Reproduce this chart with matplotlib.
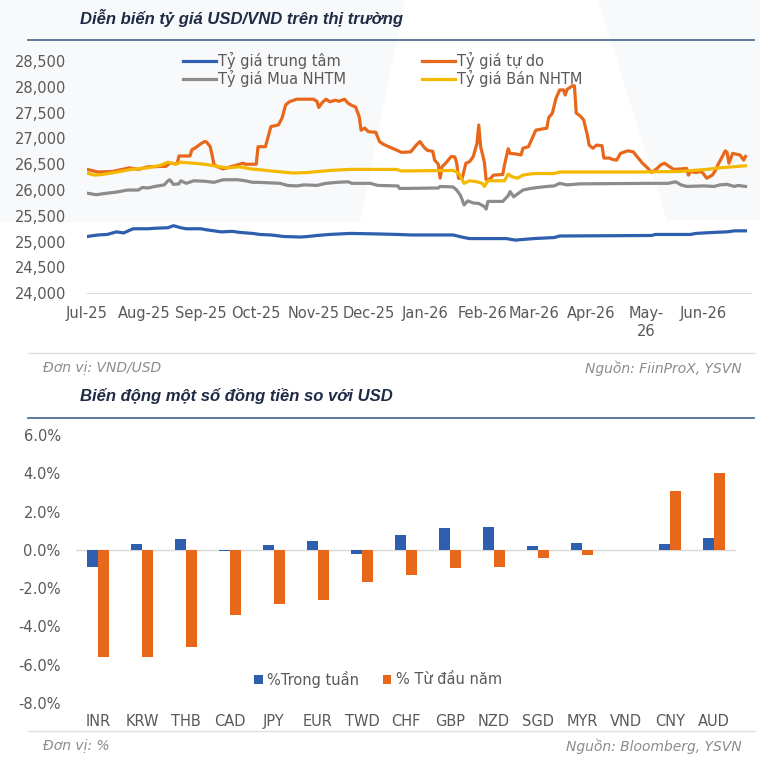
import pandas as pd
import matplotlib.pyplot as plt
from matplotlib.lines import Line2D
from matplotlib.patches import Polygon

# ---- data: USD/VND rates ----
central_dates = ["2025-07-01", "2025-07-07", "2025-07-12", "2025-07-17", "2025-07-21", "2025-07-26",
                 "2025-08-03", "2025-08-07", "2025-08-14", "2025-08-17", "2025-08-21", "2025-08-24",
                 "2025-09-01", "2025-09-04", "2025-09-12", "2025-09-18", "2025-09-22", "2025-09-29",
                 "2025-10-03", "2025-10-09", "2025-10-16", "2025-10-25", "2025-10-29", "2025-11-03",
                 "2025-11-10", "2025-11-21", "2025-12-06", "2025-12-17", "2025-12-24", "2026-01-16",
                 "2026-01-22", "2026-01-25", "2026-02-14", "2026-02-19", "2026-02-22", "2026-03-01",
                 "2026-03-12", "2026-03-15", "2026-05-04", "2026-05-06", "2026-05-25", "2026-05-28",
                 "2026-06-07", "2026-06-14", "2026-06-18", "2026-06-24"]
central_rate = [25100, 25130, 25140, 25190, 25170, 25250,
                25250, 25260, 25270, 25310, 25270, 25250,
                25250, 25230, 25190, 25200, 25180, 25160,
                25140, 25130, 25100, 25090, 25100, 25120,
                25140, 25160, 25150, 25140, 25130, 25130,
                25080, 25060, 25060, 25030, 25040, 25060,
                25080, 25110, 25120, 25140, 25140, 25160,
                25180, 25190, 25210, 25210]

free_dates = ["2025-07-01", "2025-07-07", "2025-07-15", "2025-07-24", "2025-07-29", "2025-08-03",
              "2025-08-13", "2025-08-15", "2025-08-19", "2025-08-20", "2025-08-26", "2025-08-27",
              "2025-08-29", "2025-09-01", "2025-09-03", "2025-09-04", "2025-09-06", "2025-09-07",
              "2025-09-08", "2025-09-10", "2025-09-13", "2025-09-19", "2025-09-24", "2025-09-25",
              "2025-10-01", "2025-10-02", "2025-10-06", "2025-10-09", "2025-10-13", "2025-10-15",
              "2025-10-17", "2025-10-19", "2025-10-23", "2025-11-01", "2025-11-03", "2025-11-04",
              "2025-11-06", "2025-11-08", "2025-11-10", "2025-11-13", "2025-11-15", "2025-11-18",
              "2025-11-20", "2025-11-22", "2025-11-24", "2025-11-26", "2025-11-27", "2025-11-29",
              "2025-12-01", "2025-12-05", "2025-12-07", "2025-12-09", "2025-12-12", "2025-12-16",
              "2025-12-19", "2025-12-24", "2025-12-27", "2025-12-29", "2025-12-31", "2026-01-02",
              "2026-01-05", "2026-01-06", "2026-01-08", "2026-01-09", "2026-01-10", "2026-01-12",
              "2026-01-15", "2026-01-17", "2026-01-18", "2026-01-19", "2026-01-21", "2026-01-23",
              "2026-01-25", "2026-01-27", "2026-01-29", "2026-01-30", "2026-01-31", "2026-02-02",
              "2026-02-03", "2026-02-05", "2026-02-07", "2026-02-12", "2026-02-13", "2026-02-15",
              "2026-02-16", "2026-02-19", "2026-02-22", "2026-02-23", "2026-02-26", "2026-02-28",
              "2026-03-02", "2026-03-08", "2026-03-09", "2026-03-11", "2026-03-13", "2026-03-15",
              "2026-03-17", "2026-03-18", "2026-03-19", "2026-03-22", "2026-03-23", "2026-03-24",
              "2026-03-26", "2026-03-28", "2026-03-30", "2026-03-31", "2026-04-02", "2026-04-04",
              "2026-04-07", "2026-04-08", "2026-04-11", "2026-04-13", "2026-04-15", "2026-04-17",
              "2026-04-21", "2026-04-24", "2026-04-26", "2026-04-29", "2026-05-02", "2026-05-04",
              "2026-05-07", "2026-05-09", "2026-05-11", "2026-05-13", "2026-05-16", "2026-05-20",
              "2026-05-23", "2026-05-24", "2026-05-25", "2026-05-28", "2026-05-31", "2026-06-01",
              "2026-06-03", "2026-06-06", "2026-06-08", "2026-06-09", "2026-06-11", "2026-06-13",
              "2026-06-14", "2026-06-15", "2026-06-17", "2026-06-21", "2026-06-23", "2026-06-24"]
free_rate = [26400, 26350, 26360, 26430, 26400, 26450,
             26460, 26520, 26510, 26660, 26660, 26780,
             26820, 26900, 26940, 26930, 26840, 26680,
             26500, 26450, 26410, 26470, 26520, 26500,
             26500, 26840, 26840, 27230, 27260, 27390,
             27650, 27710, 27760, 27760, 27720, 27600,
             27700, 27760, 27710, 27740, 27720, 27760,
             27680, 27640, 27610, 27420, 27160, 27200,
             27130, 27120, 26940, 26890, 26840, 26780,
             26730, 26740, 26870, 26940, 26840, 26770,
             26750, 26580, 26500, 26230, 26450, 26520,
             26650, 26640, 26520, 26230, 26230, 26520,
             26550, 26650, 26900, 27260, 26840, 26550,
             26200, 26210, 26290, 26300, 26490, 26800,
             26710, 26700, 26680, 26810, 26840, 27000,
             27160, 27200, 27400, 27490, 27780, 27940,
             27940, 27840, 27950, 28020, 28020, 27490,
             27440, 27360, 27070, 26870, 26810, 26870,
             26860, 26620, 26620, 26590, 26580, 26710,
             26760, 26740, 26650, 26520, 26420, 26340,
             26420, 26490, 26520, 26470, 26400, 26410,
             26420, 26290, 26360, 26340, 26360, 26320,
             26230, 26290, 26400, 26490, 26620, 26760,
             26730, 26520, 26710, 26680, 26580, 26650]

buy_dates = ["2025-07-01", "2025-07-06", "2025-07-12", "2025-07-17", "2025-07-23", "2025-07-29",
             "2025-07-31", "2025-08-03", "2025-08-07", "2025-08-12", "2025-08-14", "2025-08-15",
             "2025-08-17", "2025-08-20", "2025-08-21", "2025-08-24", "2025-08-28", "2025-09-03",
             "2025-09-08", "2025-09-13", "2025-09-21", "2025-09-25", "2025-09-29", "2025-10-02",
             "2025-10-14", "2025-10-18", "2025-10-23", "2025-10-27", "2025-11-03", "2025-11-08",
             "2025-11-14", "2025-11-20", "2025-11-22", "2025-12-02", "2025-12-06", "2025-12-17",
             "2025-12-18", "2026-01-08", "2026-01-09", "2026-01-16", "2026-01-18", "2026-01-20",
             "2026-01-21", "2026-01-22", "2026-01-24", "2026-01-27", "2026-01-30", "2026-02-02",
             "2026-02-03", "2026-02-04", "2026-02-12", "2026-02-15", "2026-02-16", "2026-02-18",
             "2026-02-21", "2026-02-23", "2026-02-27", "2026-03-03", "2026-03-08", "2026-03-12",
             "2026-03-15", "2026-03-19", "2026-03-26", "2026-05-02", "2026-05-13", "2026-05-17",
             "2026-05-20", "2026-05-23", "2026-06-01", "2026-06-07", "2026-06-10", "2026-06-14",
             "2026-06-18", "2026-06-20", "2026-06-24"]
buy_rate = [25940, 25910, 25940, 25960, 26000, 26000,
            26050, 26040, 26070, 26100, 26180, 26200,
            26110, 26120, 26180, 26130, 26180, 26170,
            26150, 26200, 26200, 26180, 26150, 26150,
            26130, 26090, 26080, 26100, 26090, 26130,
            26150, 26160, 26130, 26130, 26090, 26080,
            26030, 26040, 26070, 26060, 26000, 25900,
            25810, 25710, 25790, 25750, 25740, 25680,
            25630, 25780, 25780, 25890, 25970, 25870,
            25950, 26000, 26030, 26050, 26070, 26080,
            26130, 26100, 26120, 26130, 26130, 26160,
            26100, 26070, 26080, 26070, 26100, 26110,
            26070, 26090, 26070]

sell_dates = ["2025-07-01", "2025-07-05", "2025-07-09", "2025-07-16", "2025-07-25", "2025-08-03",
              "2025-08-10", "2025-08-14", "2025-08-18", "2025-08-21", "2025-08-28", "2025-09-03",
              "2025-09-08", "2025-09-15", "2025-09-22", "2025-09-28", "2025-10-04", "2025-10-09",
              "2025-10-21", "2025-10-29", "2025-11-10", "2025-11-21", "2025-12-16", "2025-12-19",
              "2026-01-16", "2026-01-19", "2026-01-21", "2026-01-22", "2026-01-25", "2026-01-29",
              "2026-02-01", "2026-02-02", "2026-02-04", "2026-02-13", "2026-02-15", "2026-02-17",
              "2026-02-20", "2026-02-23", "2026-03-01", "2026-03-12", "2026-03-15", "2026-04-27",
              "2026-05-19", "2026-06-03", "2026-06-10", "2026-06-24"]
sell_rate = [26330, 26290, 26300, 26340, 26400, 26430,
             26480, 26540, 26500, 26540, 26520, 26500,
             26470, 26430, 26450, 26410, 26390, 26370,
             26330, 26340, 26380, 26400, 26400, 26370,
             26380, 26330, 26200, 26130, 26180, 26160,
             26130, 26070, 26180, 26180, 26310, 26260,
             26230, 26290, 26320, 26320, 26350, 26350,
             26360, 26400, 26430, 26470]

month_ticks = pd.date_range("2025-07-01", "2026-06-01", freq="MS")
month_labels = ["Jul-25", "Aug-25", "Sep-25", "Oct-25", "Nov-25", "Dec-25",
                "Jan-26", "Feb-26", "Mar-26", "Apr-26", "May-\n26", "Jun-26"]

# ---- data: currencies vs USD (%) ----
currencies = ["INR", "KRW", "THB", "CAD", "JPY", "EUR", "TWD", "CHF",
              "GBP", "NZD", "SGD", "MYR", "VND", "CNY", "AUD"]
week_chg = [-0.88, 0.30, 0.57, -0.08, 0.24, 0.44, -0.20, 0.77,
            1.15, 1.20, 0.18, 0.38, -0.02, 0.30, 0.63]
ytd_chg = [-5.6, -5.6, -5.1, -3.4, -2.85, -2.6, -1.7, -1.3,
           -0.95, -0.88, -0.45, -0.28, -0.03, 3.05, 4.0]

BLUE = "#2e5fae"
ORANGE = "#e8681b"
GRAY = "#8c8c8c"
YELLOW = "#f5b800"
TICK = "#595959"
TITLE = "#1f2a44"
W, H = 766, 762

plt.rcParams["font.family"] = ["DejaVu Sans"]

fig = plt.figure(figsize=(W / 100, H / 100), dpi=100)


def fx(px):
    return px / W


def fy(py):
    return 1 - py / H


# faint watermark shapes behind the top chart
for pts in ([(0, 0), (405, 0), (360, 222), (0, 222)],
            [(598, 0), (760, 0), (760, 220), (667, 220)]):
    fig.add_artist(Polygon([(fx(a), fy(b)) for a, b in pts], closed=True,
                           facecolor="#f8f9fb", edgecolor="none", zorder=0))

# ---------------- top chart ----------------
ax1 = fig.add_axes([fx(87), fy(293.3), fx(751 - 87), (293.3 - 61) / H])
l_c, = ax1.plot(pd.to_datetime(central_dates), central_rate, color=BLUE, lw=2.3)
l_f, = ax1.plot(pd.to_datetime(free_dates), free_rate, color=ORANGE, lw=2.3)
l_b, = ax1.plot(pd.to_datetime(buy_dates), buy_rate, color=GRAY, lw=2.3)
l_s, = ax1.plot(pd.to_datetime(sell_dates), sell_rate, color=YELLOW, lw=2.3)

ax1.set_xlim(pd.Timestamp("2025-07-01"), pd.Timestamp("2026-06-27"))
ax1.set_ylim(24000, 28500)
ax1.set_yticks(range(24000, 28501, 500))
ax1.set_yticklabels([f"{v:,}" for v in range(24000, 28501, 500)])
ax1.set_xticks(month_ticks)
ax1.set_xticklabels(month_labels, linespacing=1.25)
ax1.tick_params(axis="both", length=0, labelsize=10.5, colors=TICK)
ax1.tick_params(axis="y", pad=15)
ax1.tick_params(axis="x", pad=9)
for s in ["top", "right", "left"]:
    ax1.spines[s].set_visible(False)
ax1.spines["bottom"].set_color("#d9d9d9")
ax1.patch.set_alpha(0)

# column-major order so rows read: trung tâm | tự do, Mua | Bán
leg1 = ax1.legend([l_c, l_b, l_f, l_s],
                  ["Tỷ giá trung tâm", "Tỷ giá Mua NHTM", "Tỷ giá tự do", "Tỷ giá Bán NHTM"],
                  ncol=2, loc="upper left", bbox_to_anchor=((177 - 87) / (751 - 87), 1.062),
                  frameon=False, fontsize=10.5, handlelength=2.3, handletextpad=0.1,
                  columnspacing=5.2, labelspacing=0.02, borderaxespad=0)
for t in leg1.get_texts():
    t.set_color(TICK)

# ---------------- bottom chart ----------------
ax2 = fig.add_axes([fx(76), fy(703), fx(736 - 76), (703 - 435) / H])
x = range(len(currencies))
bw = 0.26
ax2.bar([i - bw / 2 for i in x], week_chg, width=bw, color=BLUE, label="%Trong tuần")
ax2.bar([i + bw / 2 for i in x], ytd_chg, width=bw, color=ORANGE, label="% Từ đầu năm")
ax2.axhline(0, color="#d9d9d9", lw=1, zorder=0.5)
ax2.set_xlim(-0.5, len(currencies) - 0.5)
ax2.set_ylim(-8, 6)
ax2.set_yticks(range(-8, 7, 2))
ax2.set_yticklabels([f"{v:.1f}%" for v in range(-8, 7, 2)])
ax2.set_xticks(list(x))
ax2.set_xticklabels(currencies)
ax2.tick_params(axis="both", length=0, labelsize=10.5, colors=TICK)
ax2.tick_params(axis="y", pad=11)
ax2.tick_params(axis="x", pad=8)
for s in ax2.spines.values():
    s.set_visible(False)
ax2.patch.set_alpha(0)

leg2 = ax2.legend(ncol=2, loc="center", bbox_to_anchor=((378 - 76) / (736 - 76), (703 - 679) / (703 - 435)),
                  frameon=False, fontsize=10.5, handlelength=0.6, handleheight=0.6,
                  handletextpad=0.3, columnspacing=1.6)
for t in leg2.get_texts():
    t.set_color(TICK)

# ---------------- titles, rules, footers ----------------
title_kw = dict(fontsize=12, fontweight="bold", style="italic", color=TITLE, va="center",
                family=["Liberation Sans", "DejaVu Sans"])
fig.text(fx(80), fy(18), "Diễn biến tỷ giá USD/VND trên thị trường", **title_kw)
fig.text(fx(80), fy(396), "Biến động một số đồng tiền so với USD", **title_kw)

for yy in (40, 418):
    fig.add_artist(Line2D([fx(28), fx(754)], [fy(yy), fy(yy)], color="#4f7096", lw=1.3))
for yy in (353, 731):
    fig.add_artist(Line2D([fx(28), fx(755)], [fy(yy), fy(yy)], color="#e0e0e0", lw=1))

foot_kw = dict(fontsize=10, style="italic", color="#8c8c8c", va="center")
fig.text(fx(43), fy(368), "Đơn vị: VND/USD", **foot_kw)
fig.text(fx(742), fy(368), "Nguồn: FiinProX, YSVN", ha="right", **foot_kw)
fig.text(fx(43), fy(746), "Đơn vị: %", **foot_kw)
fig.text(fx(742), fy(746), "Nguồn: Bloomberg, YSVN", ha="right", **foot_kw)

fig.savefig("out.png", dpi=100)
